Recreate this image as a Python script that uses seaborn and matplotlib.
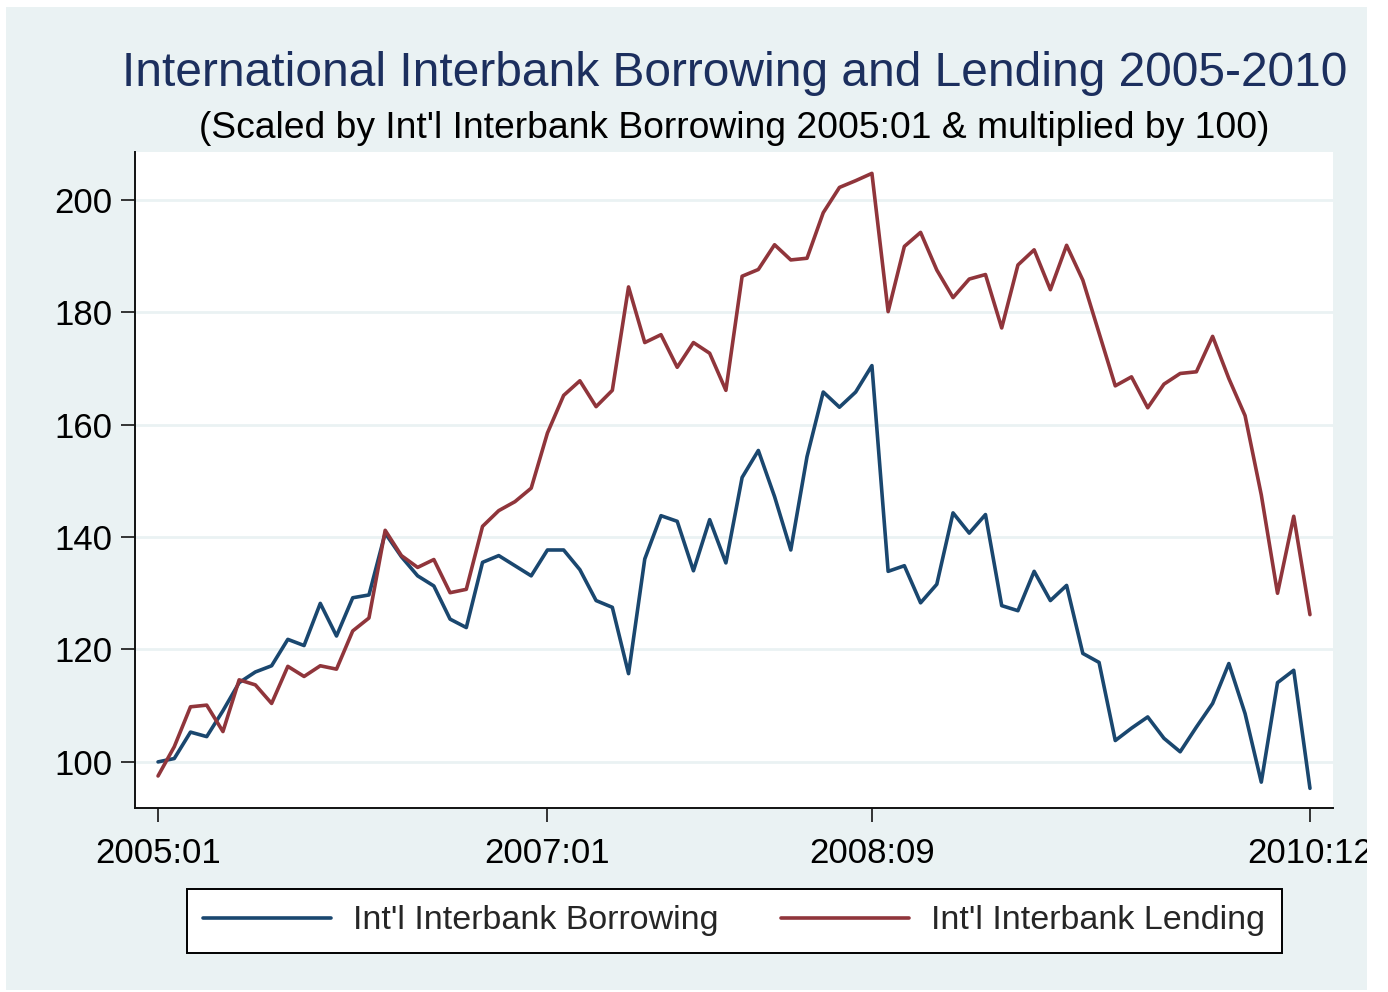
import numpy as np
import pandas as pd
import matplotlib
matplotlib.use("Agg")
import matplotlib.pyplot as plt
from matplotlib.patches import Rectangle
import seaborn as sns

# monthly series, 2005:01 .. 2010:12 (index 2005:01 borrowing = 100)
borrowing = [100.0, 100.6, 105.3, 104.5, 109.1, 114.1, 116.0, 117.1, 121.8, 120.7,
             128.2, 122.4, 129.2, 129.7, 140.7, 136.5, 133.1, 131.3, 125.4, 123.9,
             135.5, 136.7, 134.9, 133.1, 137.7, 137.7, 134.2, 128.7, 127.5, 115.7,
             136.1, 143.8, 142.8, 134.0, 143.1, 135.4, 150.6, 155.4, 147.2, 137.7,
             154.3, 165.8, 163.1, 165.8, 170.5, 133.9, 134.9, 128.3, 131.6, 144.3,
             140.7, 144.0, 127.8, 126.9, 133.9, 128.7, 131.4, 119.3, 117.7, 103.8,
             106.0, 108.0, 104.2, 101.8, 106.2, 110.4, 117.5, 108.6, 96.4, 114.1,
             116.3, 95.3]
lending = [97.5, 102.7, 109.8, 110.1, 105.4, 114.6, 113.7, 110.4, 117.0, 115.2,
           117.1, 116.5, 123.3, 125.6, 141.2, 136.7, 134.6, 136.0, 130.1, 130.7,
           141.9, 144.7, 146.3, 148.7, 158.5, 165.2, 167.8, 163.2, 166.1, 184.5,
           174.6, 176.0, 170.2, 174.6, 172.7, 166.1, 186.4, 187.6, 192.0, 189.3,
           189.6, 197.7, 202.2, 203.4, 204.7, 180.1, 191.7, 194.2, 187.5, 182.6,
           185.9, 186.7, 177.2, 188.4, 191.1, 184.0, 191.9, 185.7, 176.3, 166.9,
           168.5, 163.0, 167.2, 169.1, 169.4, 175.7, 168.2, 161.6, 147.5, 130.0,
           143.7, 126.2]
months = [f"{y}:{m:02d}" for y in range(2005, 2011) for m in range(1, 13)]
x_ticklabels = ["2005:01", "2007:01", "2008:09", "2010:12"]
y_ticks = [100, 120, 140, 160, 180, 200]
series_names = ["Int'l Interbank Borrowing", "Int'l Interbank Lending"]

df = pd.DataFrame({
    "t": list(range(len(months))) * 2,
    "value": borrowing + lending,
    "series": [series_names[0]] * len(borrowing) + [series_names[1]] * len(lending),
})

sns.set_style("white")
plt.rcParams["font.family"] = ["Liberation Sans", "DejaVu Sans"]

bg = "#EAF2F3"
navy = "#1A476F"
maroon = "#90353B"

fig = plt.figure(figsize=(13.88, 9.92), dpi=100)
fig.patch.set_facecolor("white")
fig.patches.append(Rectangle((6 / 1388, 2 / 992), 1361 / 1388, 983 / 992,
                             transform=fig.transFigure, facecolor=bg,
                             edgecolor="none", zorder=-10))

ax = fig.add_axes([135 / 1388, 1 - 808 / 992, 1198 / 1388, 656 / 992])
ax.set_facecolor("white")

sns.lineplot(data=df, x="t", y="value", hue="series",
             palette={series_names[0]: navy, series_names[1]: maroon},
             linewidth=2.6, ax=ax, zorder=3)

ax.set_xlim(-1.42, 72.42)
ax.set_ylim(91.8, 208.5)
ax.set_yticks(y_ticks)
ax.set_yticklabels([str(v) for v in y_ticks])
ax.set_xticks([months.index(m) for m in x_ticklabels])
ax.set_xticklabels(x_ticklabels)
ax.set_xlabel("")
ax.set_ylabel("")

ax.grid(axis="y", color=bg, linewidth=2.0, zorder=0)
ax.grid(axis="x", visible=False)
for s in ["top", "right"]:
    ax.spines[s].set_visible(False)
for s in ["left", "bottom"]:
    ax.spines[s].set_color("#111111")
    ax.spines[s].set_linewidth(1.4)
ax.tick_params(axis="both", direction="out", length=10, width=1.4,
               bottom=True, left=True, color="#333333",
               labelsize=25, labelcolor="black")
ax.tick_params(axis="y", pad=6)
ax.tick_params(axis="x", pad=11)

handles, labels = ax.get_legend_handles_labels()
ax.get_legend().remove()
leg = fig.legend(handles, labels, loc="center", bbox_to_anchor=(0.529, 0.0716),
                 ncol=2, fontsize=24.5, frameon=True, fancybox=False,
                 edgecolor="black", facecolor="white", framealpha=1,
                 handlelength=3.75, handletextpad=0.65, columnspacing=1.85,
                 borderpad=0.48)
leg.get_frame().set_linewidth(1.4)
for h in leg.get_lines():
    h.set_linewidth(2.6)

fig.text(0.529, 1 - 73 / 992, "International Interbank Borrowing and Lending 2005-2010",
         ha="center", va="center", fontsize=34.5, color="#1C2F5E")
fig.text(0.529, 1 - 128 / 992,
         "(Scaled by Int'l Interbank Borrowing 2005:01 & multiplied by 100)",
         ha="center", va="center", fontsize=26.8, color="black")

# white strip on the right that clips the last tick label like the original
fig.patches.append(Rectangle((1367 / 1388, 0), 21 / 1388, 1, transform=fig.transFigure,
                             facecolor="white", edgecolor="none", zorder=20))

fig.savefig("out.png", dpi=100, facecolor="white")
